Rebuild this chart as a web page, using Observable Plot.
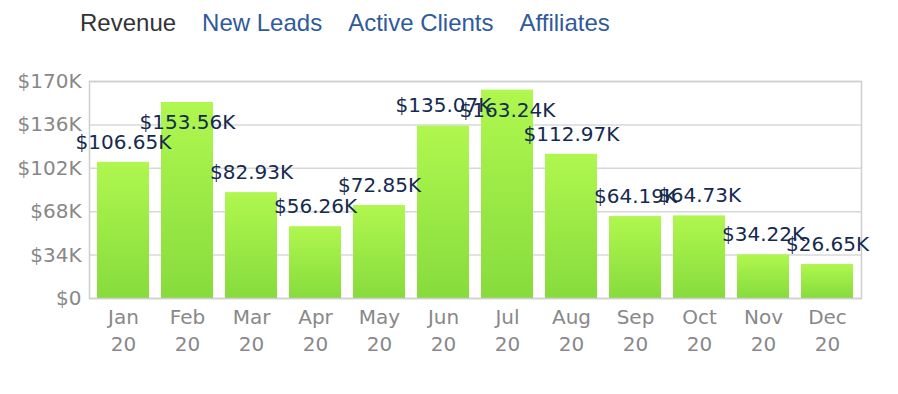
<!DOCTYPE html>
<html>
<head>
<meta charset="utf-8">
<script src="https://cdn.jsdelivr.net/npm/d3@7"></script>
<script src="https://cdn.jsdelivr.net/npm/@observablehq/plot@0.6"></script>
<style>
  html, body { margin: 0; padding: 0; background: #fff; }
  #legend { height: 46px; line-height: 46px; padding-left: 80px; font-family: "Liberation Sans", Arial, sans-serif; font-size: 24px; white-space: nowrap; }
  #legend span { margin-right: 26px; color: #2f5a9c; }
  #legend span.active { color: #333; }
  #chart svg { display: block; }
</style>
</head>
<body>
<div id="legend"></div>
<div id="chart"></div>
<script>
const legendItems = ["Revenue", "New Leads", "Active Clients", "Affiliates"];
const months = ["Jan", "Feb", "Mar", "Apr", "May", "Jun", "Jul", "Aug", "Sep", "Oct", "Nov", "Dec"];
const yearLabel = "20";
const revenue = [106650, 153560, 82930, 56260, 72850, 135070, 163240, 112970, 64190, 64730, 34220, 26650];
const yTicks = [0, 34000, 68000, 102000, 136000, 170000];

const legend = document.getElementById("legend");
legendItems.forEach((t, i) => {
  const s = document.createElement("span");
  s.textContent = t;
  if (i === 0) s.className = "active";
  legend.appendChild(s);
});

const data = months.map((m, i) => ({month: m, value: revenue[i]}));
const fmtLabel = v => "$" + (v / 1000).toFixed(2) + "K";
const fmtTick = v => v === 0 ? "$0" : "$" + (v / 1000) + "K";
const inside = d => d.value > 150000;

const plot = Plot.plot({
  width: 898,
  height: 348,
  marginTop: 35,
  marginBottom: 96,
  marginLeft: 89,
  marginRight: 37,
  style: {fontFamily: "'DejaVu Sans', Verdana, sans-serif", fontSize: "20px", background: "#fff"},
  x: {domain: months, paddingInner: 0.19, paddingOuter: 0.1, label: null},
  y: {domain: [0, 170000], label: null},
  marks: [
    Plot.gridY(yTicks, {stroke: "#d8d8d8", strokeOpacity: 1, strokeWidth: 1.5}),
    Plot.barY(data, {x: "month", y: "value", fill: "url(#barGrad)"}),
    Plot.frame({stroke: "#cfcfcf", strokeWidth: 1.5}),
    Plot.ruleX([0], {frameAnchor: "left", stroke: "#bdbdbd", strokeWidth: 1.5}),
    Plot.axisY(yTicks, {tickSize: 0, tickPadding: 8, tickFormat: fmtTick, fill: "#888", fontSize: 20, label: null}),
    Plot.axisX(months, {tickSize: 0, tickPadding: 6, tickFormat: m => m + "\n" + yearLabel, fill: "#888", fontSize: 20, lineHeight: 1.35, label: null}),
    Plot.text(data.filter(d => !inside(d)), {x: "month", y: "value", text: d => fmtLabel(d.value), dy: -20, fill: "#142a4f", fontSize: 20}),
    Plot.text(data.filter(inside), {x: "month", y: "value", text: d => fmtLabel(d.value), dy: 20, fill: "#142a4f", fontSize: 20})
  ]
});

const ns = "http://www.w3.org/2000/svg";
const defs = document.createElementNS(ns, "defs");
const grad = document.createElementNS(ns, "linearGradient");
grad.setAttribute("id", "barGrad");
grad.setAttribute("x1", "0"); grad.setAttribute("y1", "0");
grad.setAttribute("x2", "0"); grad.setAttribute("y2", "1");
[["0%", "#b0f74f"], ["100%", "#86dc3c"]].forEach(([o, c]) => {
  const st = document.createElementNS(ns, "stop");
  st.setAttribute("offset", o);
  st.setAttribute("stop-color", c);
  grad.appendChild(st);
});
defs.appendChild(grad);
plot.insertBefore(defs, plot.firstChild);
document.getElementById("chart").appendChild(plot);
</script>
</body>
</html>
